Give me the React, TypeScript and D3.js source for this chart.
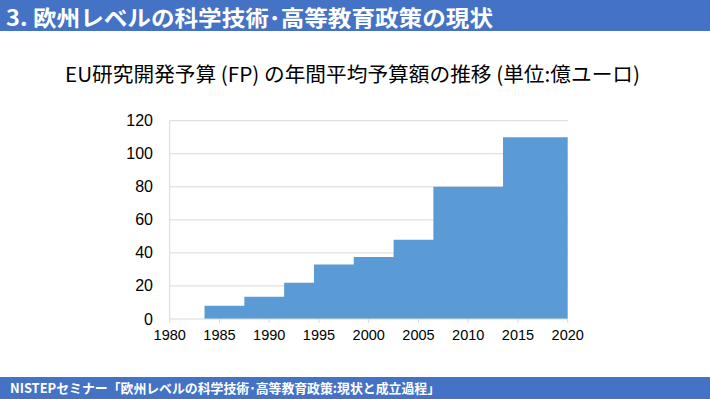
import React from "react";
import * as d3 from "d3";

const periodStarts = [1983.5, 1987.5, 1991.5, 1994.5, 1998.5, 2002.5, 2006.5, 2013.5];
const periodEnd = 2020;
const budgets = [8, 13.5, 22, 33, 37.5, 48, 80, 110];
const xTicks = [1980, 1985, 1990, 1995, 2000, 2005, 2010, 2015, 2020];
const yTicks = [0, 20, 40, 60, 80, 100, 120];

const headerText = "3. 欧州レベルの科学技術･高等教育政策の現状";
const titleText = "EU研究開発予算 (FP) の年間平均予算額の推移 (単位:億ユーロ)";
const footerText = "NISTEPセミナー「欧州レベルの科学技術･高等教育政策:現状と成立過程」";

const W = 710;
const H = 399;
const left = 169.7;
const right = 567.7;
const top = 120.7;
const bottom = 319;

export default function App() {
  const x = d3.scaleLinear().domain([1980, 2020]).range([left, right]);
  const y = d3.scaleLinear().domain([0, 120]).range([bottom, top]);
  const pts: [number, number][] = periodStarts.map((s, i) => [s, budgets[i]]);
  pts.push([periodEnd, budgets[budgets.length - 1]]);
  const area = d3
    .area<[number, number]>()
    .x((d) => x(d[0]))
    .y0(y(0))
    .y1((d) => y(d[1]))
    .curve(d3.curveStepAfter);
  const cjk = "'Noto Sans CJK JP', 'Liberation Sans', Arial, sans-serif";
  const sans = "'Liberation Sans', Arial, sans-serif";
  return (
    <svg
      width={W}
      height={H}
      style={{ position: "absolute", left: 0, top: 0, background: "#fff" }}
    >
      <rect x={0} y={0} width={W} height={31} fill="#4472C4" />
      <text
        x={6}
        y={25.5}
        fill="#fff"
        fontFamily={cjk}
        fontWeight="bold"
        fontSize={22}
        textLength={487}
        lengthAdjust="spacingAndGlyphs"
      >
        {headerText}
      </text>
      <text
        x={65}
        y={82}
        fill="#000"
        fontFamily={cjk}
        fontSize={20.5}
        textLength={575}
        lengthAdjust="spacingAndGlyphs"
      >
        {titleText}
      </text>
      {yTicks.filter((t) => t > 0).map((t) => (
        <line key={t} x1={left} x2={right} y1={y(t)} y2={y(t)} stroke="#D9D9D9" strokeWidth={1} />
      ))}
      <line x1={left} x2={left} y1={top} y2={bottom} stroke="#D9D9D9" strokeWidth={1} />
      <path d={area(pts) || ""} fill="#5B9BD5" />
      <line x1={left} x2={right} y1={bottom} y2={bottom} stroke="#D9D9D9" strokeWidth={1} />
      {xTicks.map((t) => (
        <g key={t}>
          <line x1={x(t)} x2={x(t)} y1={bottom} y2={bottom + 4} stroke="#D9D9D9" />
          <text x={x(t)} y={340} textAnchor="middle" fontFamily={sans} fontSize={14.5} fill="#000">
            {t}
          </text>
        </g>
      ))}
      {yTicks.map((t) => (
        <text key={t} x={153} y={y(t) + 5.5} textAnchor="end" fontFamily={sans} fontSize={16} fill="#000">
          {t}
        </text>
      ))}
      <rect x={0} y={377} width={W} height={22} fill="#4472C4" />
      <text
        x={10}
        y={393}
        fill="#fff"
        fontFamily={cjk}
        fontSize={13}
        fontWeight="bold"
        textLength={430}
        lengthAdjust="spacingAndGlyphs"
      >
        {footerText}
      </text>
    </svg>
  );
}
